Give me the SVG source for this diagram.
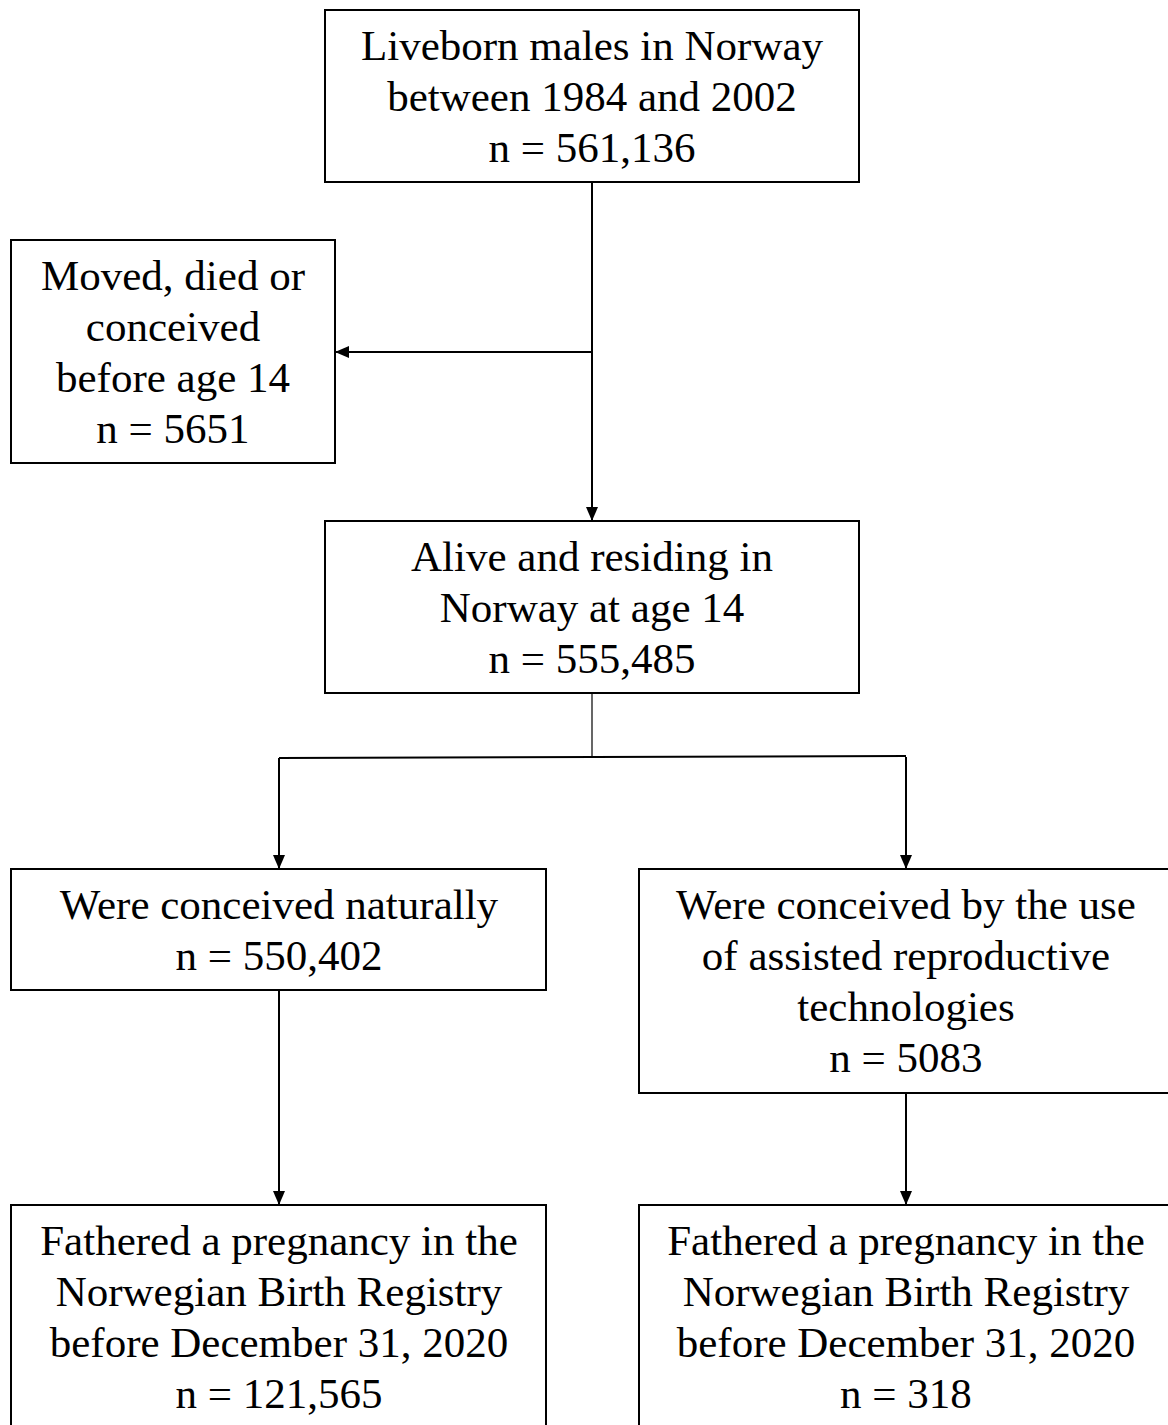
<svg xmlns="http://www.w3.org/2000/svg" width="1168" height="1425" viewBox="0 0 1168 1425">
<style>
.box{fill:#fff;stroke:#000;stroke-width:2}
.t{font-family:"Liberation Serif","Times New Roman",serif;font-size:43px;fill:#000;text-anchor:middle}
.c{stroke:#000;stroke-width:2;fill:none}
.thin{stroke:#000;stroke-width:1.2;fill:none}
</style>
<defs>
<marker id="ah" markerWidth="14" markerHeight="12" refX="13" refY="6" orient="auto" markerUnits="userSpaceOnUse">
<path d="M0,0 L14,6 L0,12 Z" fill="#000"/>
</marker>
</defs>
<rect width="1168" height="1425" fill="#fff"/>
<g id="connectors">
<line class="c" x1="592" y1="182" x2="592" y2="520" marker-end="url(#ah)"/>
<line class="c" x1="592" y1="352" x2="336" y2="352" marker-end="url(#ah)"/>
<line class="thin" x1="592" y1="693" x2="592" y2="757"/>
<line class="c" x1="279" y1="758" x2="906" y2="756"/>
<line class="c" x1="279" y1="758" x2="279" y2="868" marker-end="url(#ah)"/>
<line class="c" x1="906" y1="757" x2="906" y2="868" marker-end="url(#ah)"/>
<line class="c" x1="279" y1="990" x2="279" y2="1204" marker-end="url(#ah)"/>
<line class="c" x1="906" y1="1093" x2="906" y2="1204" marker-end="url(#ah)"/>
</g>
<g id="n1">
<rect class="box" x="325" y="10" width="534" height="172"/>
<text class="t" x="592" y="60">Liveborn males in Norway</text>
<text class="t" x="592" y="111">between 1984 and 2002</text>
<text class="t" x="592" y="162">n = 561,136</text>
</g>
<g id="n2">
<rect class="box" x="11" y="240" width="324" height="223"/>
<text class="t" x="173" y="290">Moved, died or</text>
<text class="t" x="173" y="341">conceived</text>
<text class="t" x="173" y="392">before age 14</text>
<text class="t" x="173" y="443">n = 5651</text>
</g>
<g id="n3">
<rect class="box" x="325" y="521" width="534" height="172"/>
<text class="t" x="592" y="571">Alive and residing in</text>
<text class="t" x="592" y="622">Norway at age 14</text>
<text class="t" x="592" y="673">n = 555,485</text>
</g>
<g id="n4">
<rect class="box" x="11" y="869" width="535" height="121"/>
<text class="t" x="279" y="919">Were conceived naturally</text>
<text class="t" x="279" y="970">n = 550,402</text>
</g>
<g id="n5">
<rect class="box" x="639" y="869" width="540" height="224"/>
<text class="t" x="906" y="919">Were conceived by the use</text>
<text class="t" x="906" y="970">of assisted reproductive</text>
<text class="t" x="906" y="1021">technologies</text>
<text class="t" x="906" y="1072">n = 5083</text>
</g>
<g id="n6">
<rect class="box" x="11" y="1205" width="535" height="240"/>
<text class="t" x="279" y="1255">Fathered a pregnancy in the</text>
<text class="t" x="279" y="1306">Norwegian Birth Registry</text>
<text class="t" x="279" y="1357">before December 31, 2020</text>
<text class="t" x="279" y="1408">n = 121,565</text>
</g>
<g id="n7">
<rect class="box" x="639" y="1205" width="540" height="240"/>
<text class="t" x="906" y="1255">Fathered a pregnancy in the</text>
<text class="t" x="906" y="1306">Norwegian Birth Registry</text>
<text class="t" x="906" y="1357">before December 31, 2020</text>
<text class="t" x="906" y="1408">n = 318</text>
</g>
</svg>
